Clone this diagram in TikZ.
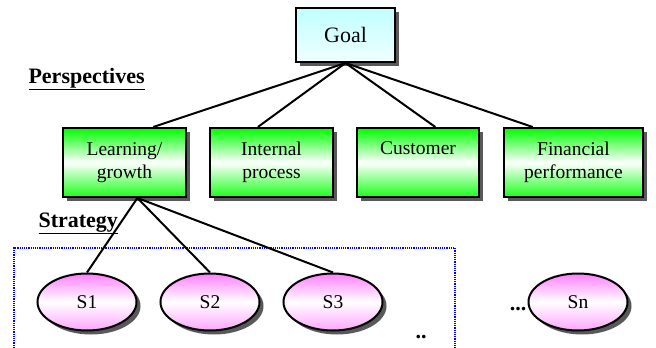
\documentclass[tikz,border=0pt]{standalone}
\usepackage{fontspec}
\setmainfont{Liberation Serif}
\usetikzlibrary{shapes.geometric,shadows}

\begin{document}
\begin{tikzpicture}[x = 1pt, y = -1pt,
		box/.style = {rectangle, draw, line width = 2pt, minimum width = 123pt, minimum height = 69pt, align = center, top color = green, bottom color = green!90!white, middle color = white, drop shadow = {shadow xshift = 4pt, shadow yshift = -4pt, fill = black!65, opacity = 1}},
		strat/.style = {ellipse, draw, line width = 2pt, minimum width = 99pt, minimum height = 57pt, inner sep = 0pt, top color = magenta!50, bottom color = magenta!35, middle color = white, drop shadow = {shadow xshift = 4pt, shadow yshift = -4pt, fill = black!65, opacity = 1}},
		link/.style = {line width = 2pt},
		every node/.style = {font = \rmfamily\fontsize{19.5}{23}\selectfont}]
		\useasboundingbox (0, 0) rectangle (656, 348);
		\draw[blue, line width = 1.8pt, dash pattern = on 1.2pt off 1pt] (14, 348) -- (14, 248) -- (455, 248) -- (455, 348);
		\node[rectangle, draw, line width = 2pt, minimum width = 99pt, minimum height = 54pt, top color = cyan!25, bottom color = cyan!6, drop shadow = {shadow xshift = 4pt, shadow yshift = -4pt, fill = black!65, opacity = 1}, font = \rmfamily\fontsize{22}{26}\selectfont] (goal) at (345.5, 35) {Goal};
		\node[box] (lg) at (124.5, 162.5) {Learning/\\growth};
		\node[box] (ip) at (271.5, 162.5) {Internal\\process};
		\node[box, minimum width = 122pt] (cu) at (418, 162.5) {Customer\\\strut};
		\node[box, minimum width = 139pt] (fp) at (573.5, 162.5) {Financial\\performance};
		\foreach \n/\a in {lg/51, ip/111, cu/64, fp/139}
			\draw[link] (goal.south) -- (\n.\a);
		\node[anchor = base west, font = \rmfamily\fontsize{22}{26}\selectfont\bfseries] (persp) at (25, 83) {\underline{Perspectives}};
		\node[anchor = base west, font = \rmfamily\fontsize{22}{26}\selectfont\bfseries] (strategy) at (35, 227) {\underline{Strategy}};
		\foreach \x in {1, 2, 3}
			\node[strat] (s\x) at (87 + 123*\x - 123, 302) {S\x};
		\node[strat] (sn) at (578, 302) {Sn};
		\foreach \x in {1, 2, 3}
			\draw[link] (lg.-70) -- (s\x.north);
		\node[font = \rmfamily\fontsize{22}{26}\selectfont\bfseries, anchor = base east, inner sep = 1pt] (dotsn) at (sn.west |- 0, 310) {...};
		\node[font = \rmfamily\fontsize{22}{26}\selectfont\bfseries, anchor = base] (dotsb) at (421, 338) {..};
	\end{tikzpicture}
\end{document}
